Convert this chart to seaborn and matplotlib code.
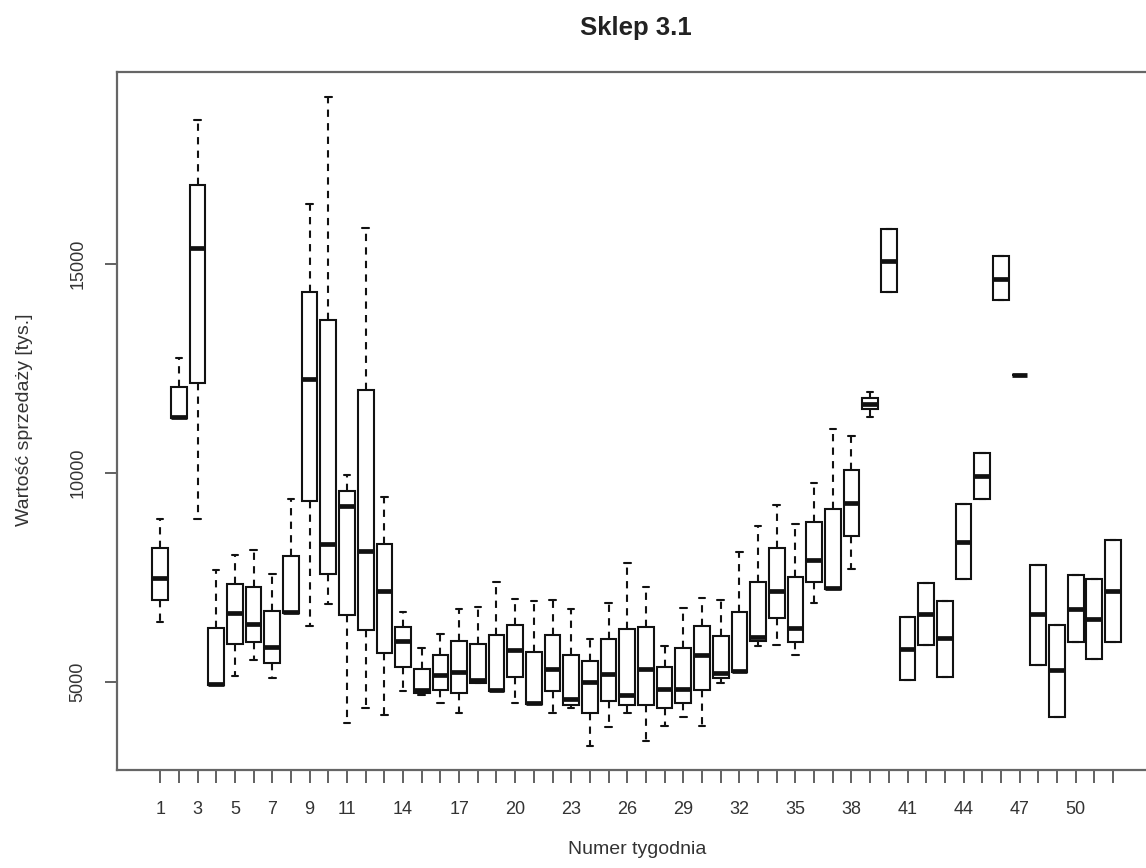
# Sklep 3.1 - weekly sales boxplots (R-style look)

import numpy as np
import pandas as pd
import matplotlib
matplotlib.use("Agg")
import matplotlib.pyplot as plt
import seaborn as sns

# Weekly box statistics (lower whisker, Q1, median, Q3, upper whisker)
weeks = list(range(1, 53))
whisker_low = [6430, 11320, 8910, 4930, 5140, 5520, 5090, 6660, 6350, 6860,
               4030, 4390, 4210, 4790, 4700, 4490, 4250, 4970, 4790, 4490,
               4470, 4270, 4370, 3470, 3920, 4270, 3600, 3960, 4170, 3950,
               4970, 5240, 5870, 5890, 5650, 6880, 7220, 7700, 11350, 14320,
               5040, 5880, 5130, 7470, 9390, 14130, 12340, 5410, 4170, 5960,
               5550, 5960]
q1 = [6960, 11320, 12150, 4930, 5910, 5960, 5450, 6660, 9320, 7590,
      6610, 6240, 5690, 5370, 4730, 4810, 4730, 4970, 4790, 5130,
      4470, 4790, 4460, 4250, 4550, 4450, 4450, 4390, 4490, 4810,
      5090, 5240, 5970, 6540, 5950, 7400, 7220, 8490, 11520, 14320,
      5040, 5880, 5130, 7470, 9390, 14130, 12340, 5410, 4170, 5960,
      5550, 5960]
median = [7500, 11340, 15390, 4950, 6640, 6400, 5830, 6680, 12260, 8290,
          9200, 8140, 7170, 5970, 4800, 5170, 5230, 5050, 4810, 5770,
          4490, 5300, 4590, 5010, 5200, 4690, 5320, 4830, 4830, 5650,
          5220, 5260, 6070, 7180, 6290, 7920, 7240, 9280, 11650, 15080,
          5800, 6620, 6050, 8360, 9940, 14650, 12340, 6620, 5290, 6750,
          6510, 7180]
q3 = [8210, 12060, 16900, 6300, 7340, 7280, 6690, 8010, 14340, 13660,
      9570, 11980, 8290, 6310, 5320, 5650, 5990, 5910, 6120, 6360,
      5730, 6120, 5640, 5510, 6040, 6260, 6310, 5350, 5820, 6340,
      6100, 6680, 7390, 8200, 7520, 8840, 9130, 10070, 11790, 15830,
      6550, 7380, 6940, 9250, 10490, 15200, 12340, 7810, 6370, 7560,
      7470, 8400]
whisker_high = [8910, 12750, 18450, 7690, 8050, 8160, 7590, 9380, 16440, 19000,
                9950, 15870, 9420, 6680, 5820, 6140, 6740, 6790, 7400, 6980,
                6940, 6960, 6740, 6020, 6880, 7840, 7280, 5870, 6770, 7000,
                6960, 8120, 8730, 9230, 8770, 9750, 11050, 10890, 11940, 15830,
                6550, 7380, 6940, 9250, 10490, 15200, 12340, 7810, 6370, 7560,
                7470, 8400]
shown_labels = [1, 3, 5, 7, 9, 11, 14, 17, 20, 23, 26, 29, 32, 35, 38, 41, 44, 47, 50]

# five points per week reproduce exactly those stats (whiskers at min/max)
rows = []
for i, w in enumerate(weeks):
    for v in (whisker_low[i], q1[i], median[i], q3[i], whisker_high[i]):
        rows.append({"week": w, "value": v})
df = pd.DataFrame(rows)

sns.set_style("ticks")
plt.rcParams["font.family"] = ["Liberation Sans", "DejaVu Sans"]

fig = plt.figure(figsize=(11.46, 8.68), dpi=100)
ax = fig.add_axes([117 / 1146, 1 - 770 / 868, (1156 - 117) / 1146, (770 - 72) / 868])

sns.boxplot(data=df, x="week", y="value", order=weeks, ax=ax,
            color="white", linecolor="#111111", linewidth=1.5, width=0.84,
            whis=(0, 100), showfliers=False, capwidths=0.35,
            medianprops={"linewidth": 3.4},
            whiskerprops={"linestyle": (0, (3.5, 3))})

ax.set_xlim(-2.31, 53.3)
ax.set_ylim(2896, 19592)

ax.set_xticks(range(len(weeks)))
ax.set_xticklabels([str(w) if w in shown_labels else "" for w in weeks])
ax.set_yticks([5000, 10000, 15000])
ax.set_yticklabels(["5000", "10000", "15000"], rotation=90, va="center")
ax.tick_params(direction="out", length=9, width=1.3, color="#555555",
               labelcolor="#333333", labelsize=13, pad=13)

for side in ["top", "left", "bottom", "right"]:
    ax.spines[side].set_color("#666666")
    ax.spines[side].set_linewidth(1.6)

ax.set_xlabel("")
ax.set_ylabel("")
fig.text(636 / 1146, 1 - 35 / 868, "Sklep 3.1", ha="center", va="baseline",
         fontsize=18.5, fontweight="bold", color="#222222")
fig.text(637 / 1146, 1 - 850 / 868, "Numer tygodnia", ha="center", va="center",
         fontsize=14, color="#333333")
fig.text(25 / 1146, 1 - 420 / 868, "Wartość sprzedaży [tys.]", ha="center",
         va="center", rotation=90, fontsize=14, color="#333333")

fig.savefig("out.png", dpi=100)
